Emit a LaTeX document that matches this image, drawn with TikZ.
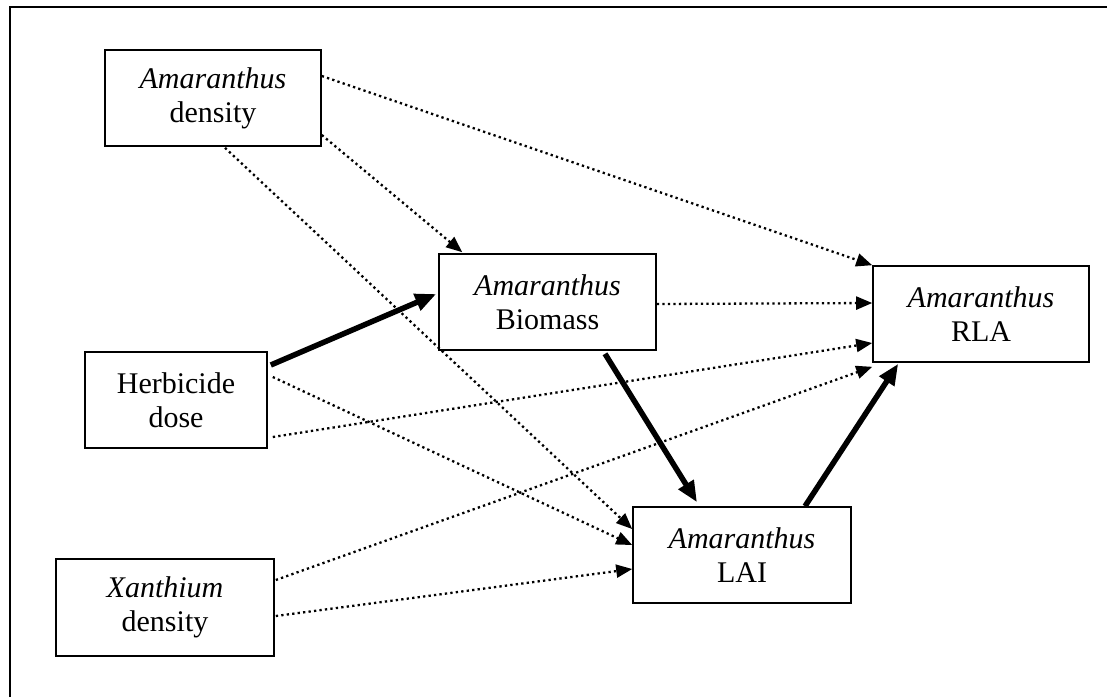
\documentclass[tikz,border=0pt]{standalone}
\usepackage{fontspec}
\setmainfont{Liberation Serif}
\usetikzlibrary{arrows.meta}
\begin{document}
\begin{tikzpicture}[x=1pt,y=-1pt,
  box/.style={draw,line width=1.6pt,rectangle,inner sep=0pt,align=center,
    font=\fontsize{30}{34}\selectfont},
  weak/.style={line width=2.3pt,dash pattern=on 2.3pt off 3.2pt,
    -{Triangle[length=16pt,width=13pt]}},
  strong/.style={line width=5.5pt,-{Triangle[length=21pt,width=17pt]}},
  frame/.style={line width=2pt}]
\useasboundingbox (0,0) rectangle (1107,697);
\coordinate (ftl) at (10,7);
\coordinate (ftr) at (1107,7);
\coordinate (fbl) at (10,697);
\draw[frame] (fbl) -- (ftl) -- (ftr);
\node[box,minimum width=216pt,minimum height=96pt] (AD) at (213,98) {\textit{Amaranthus}\\density};
\node[box,minimum width=182pt,minimum height=96pt] (HD) at (176,400) {Herbicide\\dose};
\node[box,minimum width=218pt,minimum height=97pt] (XD) at (165,607.5) {\textit{Xanthium}\\density};
\node[box,minimum width=217pt,minimum height=96pt] (BM) at (547.5,302) {\textit{Amaranthus}\\Biomass};
\node[box,minimum width=216pt,minimum height=96pt] (RLA) at (981,314) {\textit{Amaranthus}\\RLA};
\node[box,minimum width=218pt,minimum height=96pt] (LAI) at (742,555) {\textit{Amaranthus}\\LAI};
% dotted paths
\draw[weak] ([yshift=22pt]AD.east) -- (RLA.north west);
\draw[weak] ([yshift=-37pt]AD.east) -- ([xshift=24pt,yshift=1pt]BM.north west);
\draw[weak] ([xshift=12pt,yshift=-1pt]AD.south) -- ([yshift=26pt]LAI.west);
\draw[weak] ([yshift=-2pt]BM.east) -- ([yshift=11pt]RLA.west);
\draw[weak] ([xshift=5pt,yshift=23pt]HD.east) -- ([yshift=10pt]LAI.west);
\draw[weak] ([xshift=5pt,yshift=-37pt]HD.east) -- ([yshift=-29pt]RLA.west);
\draw[weak] ([xshift=1pt,yshift=27.5pt]XD.east) -- ([yshift=-4pt]RLA.south west);
\draw[weak] ([xshift=1pt,yshift=-8.5pt]XD.east) -- ([yshift=-14pt]LAI.west);
% thick paths
\draw[strong] ([xshift=3pt,yshift=35pt]HD.east) -- ([xshift=-2pt,yshift=8pt]BM.west);
\draw[strong] ([xshift=57.5pt,yshift=-3pt]BM.south) -- ([xshift=-45pt,yshift=4pt]LAI.north);
\draw[strong] ([xshift=63pt]LAI.north) -- ([xshift=26pt,yshift=-1pt]RLA.south west);
\end{tikzpicture}
\end{document}
